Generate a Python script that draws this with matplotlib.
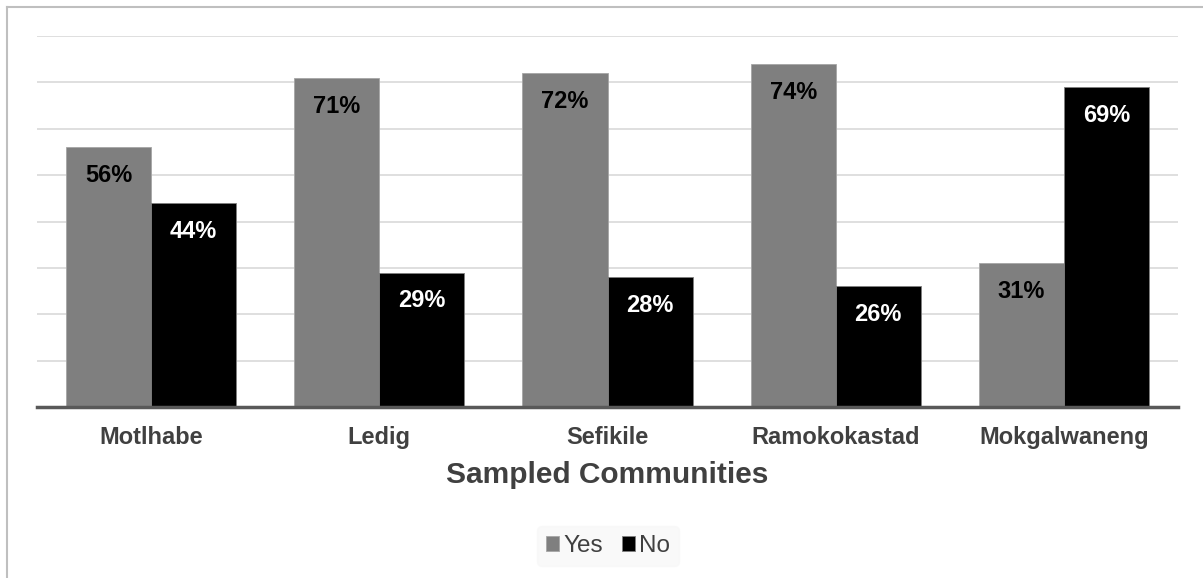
import numpy as np
import matplotlib.pyplot as plt
from matplotlib.lines import Line2D

# dati
comunita = ["Motlhabe", "Ledig", "Sefikile", "Ramokokastad", "Mokgalwaneng"]
valori_si = [56, 71, 72, 74, 31]
valori_no = [44, 29, 28, 26, 69]
serie = ["Yes", "No"]

plt.rcParams["font.family"] = ["Liberation Sans", "DejaVu Sans"]

fig = plt.figure(figsize=(12.03, 5.78), dpi=100)
ax = fig.add_axes([37 / 1203, 1 - 407 / 578, 1141 / 1203, 371 / 578])

x = np.arange(len(comunita))
larghezza = 0.373

barre_si = ax.bar(x - larghezza / 2, valori_si, larghezza, color="#7f7f7f",
                  edgecolor="#a6a6a6", linewidth=0.6, label=serie[0], zorder=3)
barre_no = ax.bar(x + larghezza / 2, valori_no, larghezza, color="#000000",
                  edgecolor="#7f7f7f", linewidth=0.6, label=serie[1], zorder=3)

# etichette dentro le barre
for barre, colore in [(barre_si, "black"), (barre_no, "white")]:
    for b in barre:
        ax.annotate(f"{b.get_height():.0f}%",
                    xy=(b.get_x() + b.get_width() / 2, b.get_height()),
                    xytext=(0, -20.5), textcoords="offset points",
                    ha="center", va="center", fontsize=17, fontweight="bold",
                    color=colore, zorder=4)

ax.set_xlim(-0.5, len(comunita) - 0.5)
ax.set_ylim(0, 80)
ax.set_yticks(np.arange(10, 81, 10))
ax.yaxis.grid(True, color="#d9d9d9", linewidth=1.2, zorder=0)
ax.tick_params(axis="y", left=False, labelleft=False)
ax.tick_params(axis="x", bottom=False, pad=10)
ax.set_xticks(x)
ax.set_xticklabels(comunita, fontsize=17, fontweight="bold", color="#404040")

for lato in ["top", "right", "left"]:
    ax.spines[lato].set_visible(False)
ax.spines["bottom"].set_color("#595959")
ax.spines["bottom"].set_linewidth(2.5)
ax.spines["bottom"].set_zorder(5)

ax.set_xlabel("Sampled Communities", fontsize=21.5, fontweight="bold",
              color="#404040", labelpad=9)

leg = fig.legend(handles=[barre_si, barre_no], labels=serie, loc="center",
                 bbox_to_anchor=(608 / 1203, 1 - 546 / 578), ncol=2,
                 fontsize=17.5, frameon=True, handlelength=0.55, handleheight=0.55,
                 handletextpad=0.15, columnspacing=0.8, borderpad=0.35)
leg.get_frame().set_facecolor("#f8f8f8")
leg.get_frame().set_edgecolor("#f8f8f8")
for t in leg.get_texts():
    t.set_color("#404040")

# cornice grigia del grafico (solo lati sinistro e superiore visibili)
x0 = 7 / 1203
y0 = 1 - 7 / 578
fig.add_artist(Line2D([x0, x0], [y0, -0.01], color="#bfbfbf", linewidth=1.5,
                      transform=fig.transFigure))
fig.add_artist(Line2D([x0, 1.01], [y0, y0], color="#bfbfbf", linewidth=1.5,
                      transform=fig.transFigure))

fig.savefig("out.png", dpi=100)
